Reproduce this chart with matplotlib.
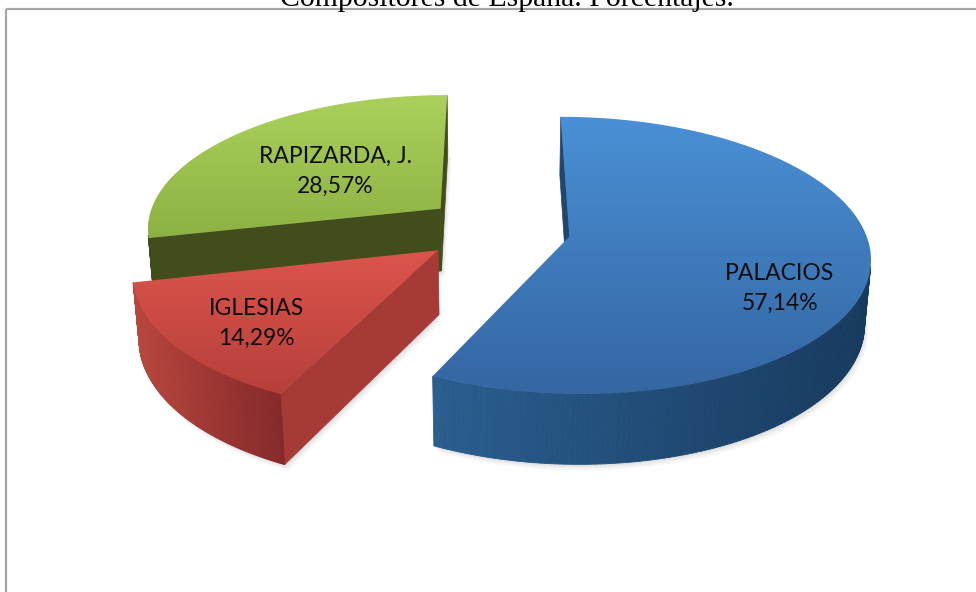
import numpy as np
import matplotlib
matplotlib.use("Agg")
import matplotlib.pyplot as plt
from matplotlib.patches import Polygon, Rectangle
from matplotlib.colors import to_rgb

# ----------------------------------------------------------------------
# data
# ----------------------------------------------------------------------
names   = ["PALACIOS", "IGLESIAS", "RAPIZARDA, J."]
shares  = [57.14, 14.29, 28.57]
pct_txt = ["57,14%", "14,29%", "28,57%"]
title   = "Compositores de España. Porcentajes."

# style per slice: top light, top dark, side left, side right, cut face
styles = [
    ("#4a90d6", "#3466a2", "#2a5e8f", "#173a5e", "#1e4670"),
    ("#dc554c", "#b63f3a", "#b8473e", "#85292a", "#a53a36"),
    ("#abd05b", "#8db243", "#3f4d1c", "#3a4718", "#414e1b"),
]
# label anchor on each top face: (angle deg clockwise from back, radius)
label_pos = [(118, 0.75), (229, 0.73), (309, 0.50)]

# ----------------------------------------------------------------------
# 3d pie geometry
# ----------------------------------------------------------------------
CX, CY  = 497, 229        # screen position of pie centre (px)
K       = 295             # px per unit radius at centre depth
D       = 6.6             # camera distance
TILT    = np.radians(27)
H       = 0.245           # thickness
EXPLODE = 0.25
s, c = np.sin(TILT), np.cos(TILT)
cam = np.array([0.0, -D * c, D * s])


def project(X, Y, Z):
    X, Y, Z = np.asarray(X, float), np.asarray(Y, float), np.asarray(Z, float)
    yc = Y * s + Z * c
    zc = D + Y * c - Z * s
    return CX + K * D * X / zc, CY - K * D * yc / zc


def mix(c1, c2, t):
    a, b = np.array(to_rgb(c1)), np.array(to_rgb(c2))
    return tuple(a + (b - a) * t)


fig = plt.figure(figsize=(9.76, 5.92), dpi=100)
ax = fig.add_axes([0, 0, 1, 1])
ax.set_xlim(0, 976)
ax.set_ylim(592, 0)
ax.axis("off")

fracs = np.array(shares) / sum(shares)
bounds = np.concatenate([[0], np.cumsum(fracs)]) * 360.0

slices = []
for i in range(len(shares)):
    t0, t1 = bounds[i], bounds[i + 1]
    mid = np.radians((t0 + t1) / 2)
    ox, oy = EXPLODE * np.sin(mid), EXPLODE * np.cos(mid)
    slices.append((i, t0, t1, ox, oy))

# soft shadow under the slices
for i, t0, t1, ox, oy in slices:
    th = np.radians(np.linspace(t0, t1, 120))
    bx = np.concatenate([[ox], ox + np.sin(th)])
    by = np.concatenate([[oy], oy + np.cos(th)])
    sx, sy = project(bx, by, np.full(bx.shape, -H))
    for k, a in enumerate([0.06, 0.08, 0.10]):
        d = 6 - 2 * k
        ax.add_patch(Polygon(np.c_[sx + d * 0.6, sy + d], closed=True,
                             fc="#7f7f7f", ec="none", alpha=a, zorder=1))

# draw back slices first
order = sorted(slices, key=lambda t: -t[4])
z = 2
for i, t0, t1, ox, oy in order:
    top_hi, top_lo, side_l, side_r, cut_c = styles[i]
    th = np.radians(np.linspace(t0, t1, 240))
    rx, ry = ox + np.sin(th), oy + np.cos(th)

    # radial cut faces
    for ang, sign in [(t0, -1), (t1, 1)]:
        a = np.radians(ang)
        n = np.array([sign * np.cos(a), -sign * np.sin(a), 0.0])
        pm = np.array([ox + 0.5 * np.sin(a), oy + 0.5 * np.cos(a), -H / 2])
        if n @ (cam - pm) > 0:
            qx = [ox, ox + np.sin(a), ox + np.sin(a), ox]
            qy = [oy, oy + np.cos(a), oy + np.cos(a), oy]
            qz = [0, 0, -H, -H]
            px, py = project(qx, qy, qz)
            ax.add_patch(Polygon(np.c_[px, py], closed=True, fc=cut_c,
                                 ec=cut_c, lw=0.5, zorder=z))

    # curved outer side
    tx, ty = project(rx, ry, np.zeros_like(rx))
    bx_, by_ = project(rx, ry, np.full(rx.shape, -H))
    vis = []
    for k in range(len(th) - 1):
        tm = (th[k] + th[k + 1]) / 2
        n = np.array([np.sin(tm), np.cos(tm), 0.0])
        pm = np.array([ox + np.sin(tm), oy + np.cos(tm), -H / 2])
        if n @ (cam - pm) > 0:
            vis.append(k)
    if vis:
        xs = tx[vis]
        xmin, xmax = xs.min(), xs.max()
        for k in vis:
            tpos = (tx[k] - xmin) / max(xmax - xmin, 1)
            col = mix(side_l, side_r, tpos)
            quad = [(tx[k], ty[k]), (tx[k + 1], ty[k + 1]),
                    (bx_[k + 1], by_[k + 1]), (bx_[k], by_[k])]
            ax.add_patch(Polygon(quad, closed=True, fc=col, ec=col,
                                 lw=0.6, zorder=z))

    # top face with vertical gradient
    vx, vy = project(ox, oy, 0)
    poly_x = np.concatenate([[vx], tx])
    poly_y = np.concatenate([[vy], ty])
    top = Polygon(np.c_[poly_x, poly_y], closed=True, fc="none",
                  ec="none", zorder=z + 1)
    ax.add_patch(top)
    grad = np.linspace(0, 1, 256)[:, None]
    c_hi, c_lo = np.array(to_rgb(top_hi)), np.array(to_rgb(top_lo))
    img = c_hi[None, None, :] + (c_lo - c_hi)[None, None, :] * grad[:, :, None]
    im = ax.imshow(img, extent=(poly_x.min(), poly_x.max(),
                                poly_y.max(), poly_y.min()),
                   aspect="auto", zorder=z + 1, interpolation="bilinear")
    im.set_clip_path(top)

    # label
    la, lr = label_pos[i]
    la = np.radians(la)
    lx, ly = project(ox + lr * np.sin(la), oy + lr * np.cos(la), 0)
    ax.text(lx, ly - 7, names[i], ha="center", va="baseline",
            fontsize=16.5, family="Lato", color="#0d0d0d", zorder=20)
    ax.text(lx, ly + 23, pct_txt[i], ha="center", va="baseline",
            fontsize=16.5, family="Lato", color="#0d0d0d", zorder=20)
    z += 3

ax.set_xlim(0, 976)
ax.set_ylim(592, 0)

# chart frame and (cut off) title
ax.add_patch(Rectangle((6, 8.5), 1200, 1200, fill=False, ec="#a6a6a6",
                       lw=1.6, zorder=30))
ax.text(507, 6, title, ha="center", va="baseline", fontsize=21.4,
        family="Liberation Serif", color="black", zorder=31)

fig.savefig("out.png", dpi=100, facecolor="white")
